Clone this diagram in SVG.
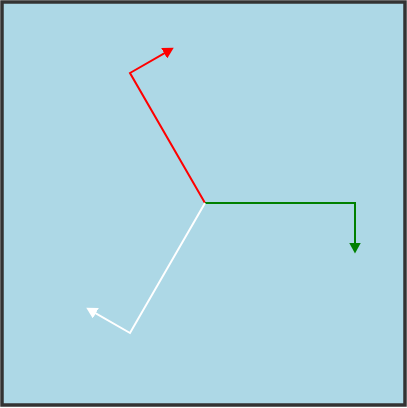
<svg xmlns="http://www.w3.org/2000/svg" width="407" height="408" viewBox="0 0 407 408">
<style>
.c{fill:none;stroke-width:2;stroke-linejoin:miter}
</style>
<defs>
<marker id="ar" viewBox="0 0 11 12" refX="6" refY="6" markerWidth="11" markerHeight="12" markerUnits="userSpaceOnUse" orient="auto">
<path d="M0,0 L11,6 L0,12 z" fill="red"/>
</marker>
<marker id="ag" viewBox="0 0 11 12" refX="6" refY="6" markerWidth="11" markerHeight="12" markerUnits="userSpaceOnUse" orient="auto">
<path d="M0,0 L11,6 L0,12 z" fill="green"/>
</marker>
<marker id="aw" viewBox="0 0 11 12" refX="6" refY="6" markerWidth="11" markerHeight="12" markerUnits="userSpaceOnUse" orient="auto">
<path d="M0,0 L11,6 L0,12 z" fill="white"/>
</marker>
</defs>
<rect x="2" y="2" width="403" height="403" fill="#add8e6" stroke="#333" stroke-width="3.5"/>
<g id="connectors">
<path class="c" stroke="red" d="M205,203 L130,73 L169.4,50.3" marker-end="url(#ar)"/>
<path class="c" stroke="green" d="M205,203 L355,203 L355,248.5" marker-end="url(#ag)"/>
<path class="c" stroke="white" d="M205,203 L130,333 L90.6,310.3" marker-end="url(#aw)"/>
</g>
</svg>
